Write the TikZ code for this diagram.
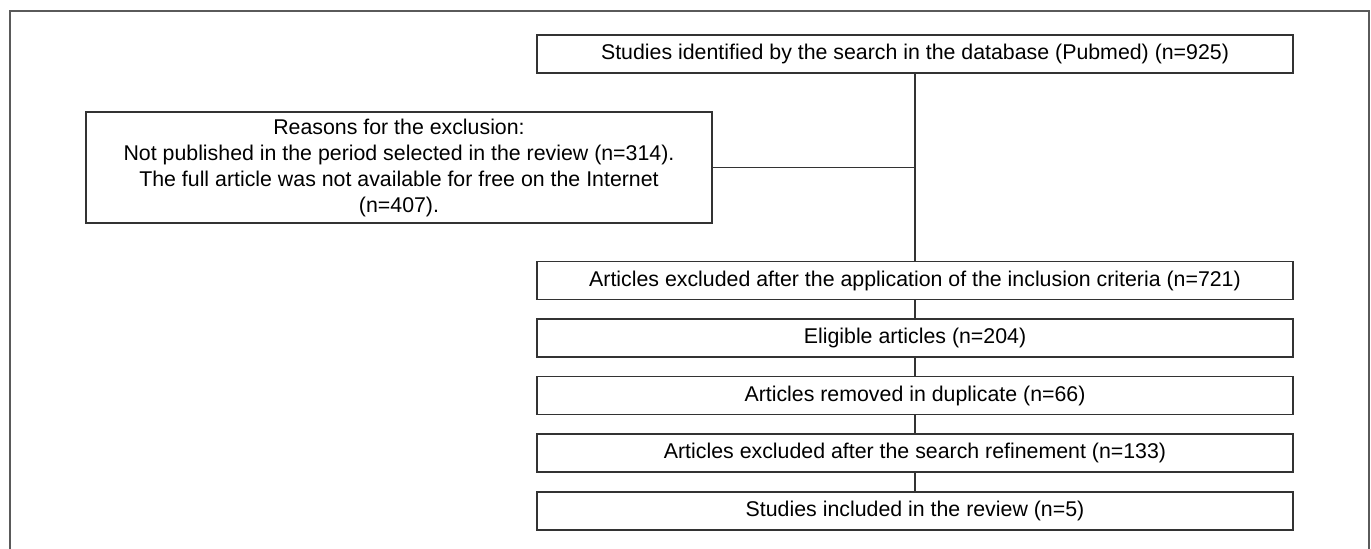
\documentclass[tikz,border=0pt]{standalone}
\usepackage{fontspec}
\setmainfont{Liberation Sans}
\definecolor{boxline}{HTML}{333333}
\definecolor{frameline}{HTML}{5A5A5A}
\tikzset{
  flowbox/.style={draw=boxline, line width=1.1pt, minimum width=567pt, minimum height=28.5pt, inner sep=0pt, align=center, font=\fontsize{16}{19.5}\selectfont, text=black},
  reasonbox/.style={draw=boxline, line width=1.1pt, minimum width=469.5pt, minimum height=83.25pt, inner sep=0pt, align=center, font=\fontsize{16}{19.5}\selectfont, text=black},
  link/.style={draw=boxline, line width=1.1pt},
}
\begin{document}
\begin{tikzpicture}[x=0.75pt, y=-0.75pt]
\useasboundingbox (0,0) rectangle (1371,549);
\draw[frameline, line width=1.3pt] (10,549) -- (10,11) -- (1369,11) -- (1369,549);
\node[flowbox] (s1) at (915,54) {Studies identified by the search in the database (Pubmed) (n=925)};
\node[reasonbox] (r) at (399,167.5) {Reasons for the exclusion:\\Not published in the period selected in the review (n=314).\\The full article was not available for free on the Internet\\(n=407).};
\node[flowbox] (s2) at (915,280.5) {Articles excluded after the application of the inclusion criteria (n=721)};
\node[flowbox] (s3) at (915,338) {Eligible articles (n=204)};
\node[flowbox] (s4) at (915,395.5) {Articles removed in duplicate (n=66)};
\node[flowbox] (s5) at (915,453) {Articles excluded after the search refinement (n=133)};
\node[flowbox] (s6) at (915,511) {Studies included in the review (n=5)};
\coordinate (j) at (s1.south |- r.east);
\draw[link] (s1.south) -- (s2.north);
\draw[link] (r.east) -- (j);
\draw[link] (s2.south) -- (s3.north);
\draw[link] (s3.south) -- (s4.north);
\draw[link] (s4.south) -- (s5.north);
\draw[link] (s5.south) -- (s6.north);
\end{tikzpicture}
\end{document}
